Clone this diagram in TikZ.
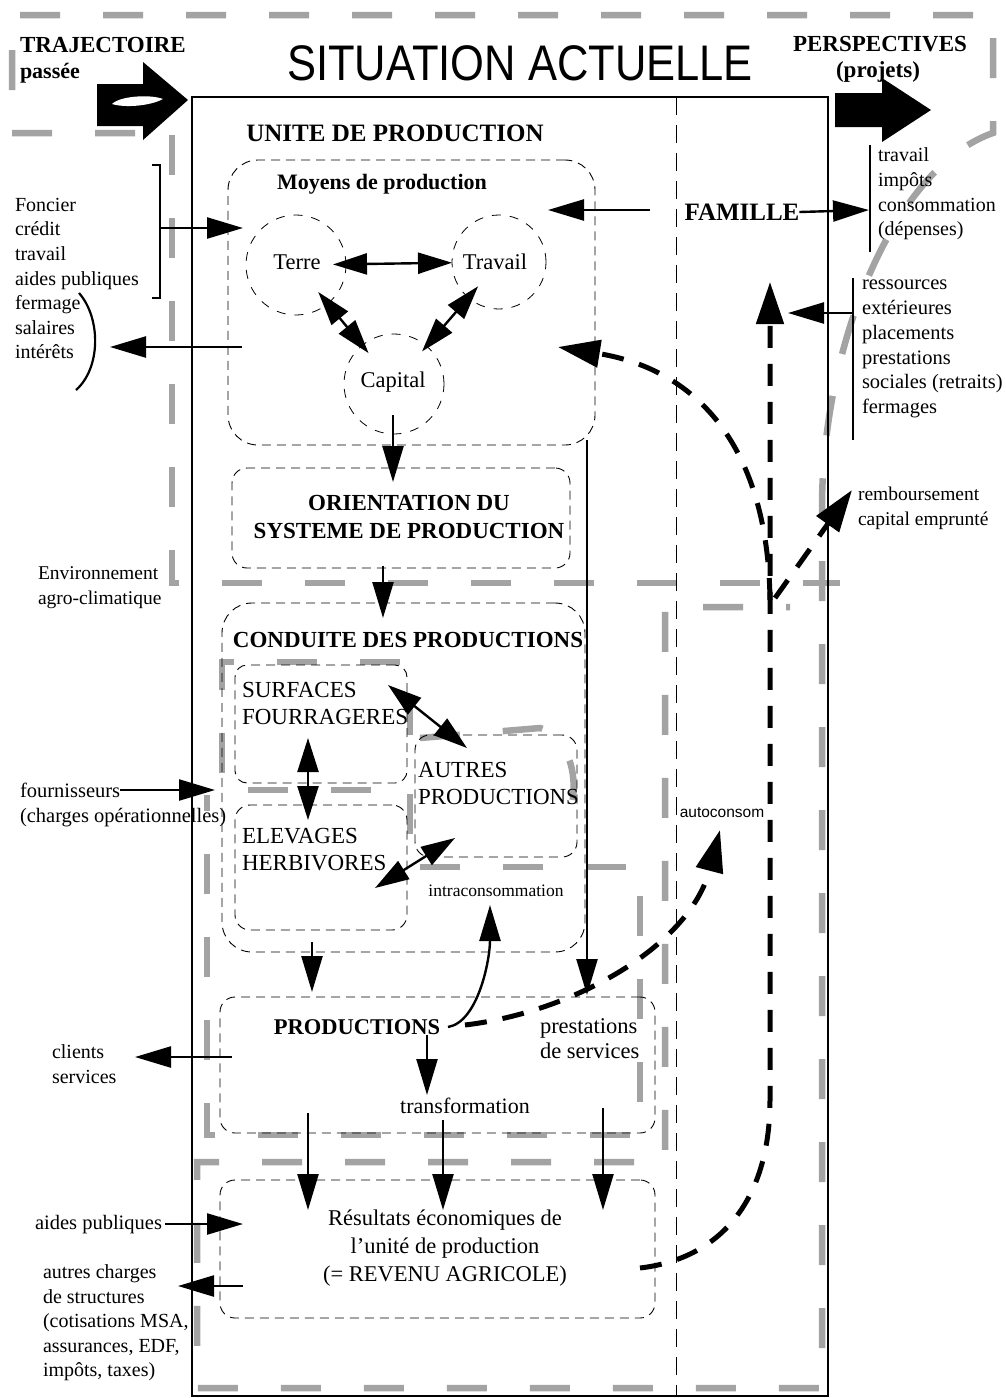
\documentclass[tikz,border=0pt]{standalone}
\usepackage{fontspec}
\usepackage{graphicx}
\setmainfont{Liberation Serif}
\newfontfamily\sansf{Liberation Sans}
\usetikzlibrary{arrows.meta}
\newcommand{\fsz}[2]{\fontsize{#1}{#2}\selectfont}
\begin{document}
\begin{tikzpicture}[x=1pt,y=-1pt,
  every node/.style={inner sep=0pt, outer sep=0pt},
  arr/.style={draw, line width=2.4pt, -{Triangle[length=36pt,width=21pt]}},
  dbl/.style={draw, line width=2.4pt, {Triangle[length=34pt,width=21pt]}-{Triangle[length=34pt,width=21pt]}},
  tdash/.style={draw, line width=5pt, dash pattern=on 22pt off 16pt, -{Triangle[length=42pt,width=27pt]}},
  dbox/.style={draw, line width=0.9pt, dash pattern=on 9pt off 6pt, rectangle},
  circ/.style={draw, circle, line width=0.8pt, dash pattern=on 9pt off 9pt},
  gdash/.style={draw=black!36, line width=6.5pt, dash pattern=on 40pt off 43pt},
  sepline/.style={draw, line width=1pt, dash pattern=on 18pt off 10pt},
  ltxt/.style={align=left, anchor=north west, font=\fsz{20}{24.6}},
]
\useasboundingbox (0,0) rectangle (1005,1398);
\fill[white] (0,0) rectangle (1005,1398);

% grey dashed boundaries
\draw[gdash] (135,133) -- (12,133) -- (12,15) -- (993,15) -- (993,133)
  .. controls (900,165) and (825,330) .. (822,500) -- (822,1388) -- (197,1388)
  -- (197,1162) -- (665,1162) -- (665,607) -- (790,607);
\draw[gdash] (172,135) -- (172,583) -- (840,583);
\draw[gdash] (410,735) -- (410,662) -- (222,662) -- (222,790) -- (410,790)
  -- (410,867) -- (640,867) -- (640,1135) -- (207,1135) -- (207,795);
\draw[gdash] (420,738) -- (540,728) .. controls (572,738) and (585,790) .. (562,832);

% big arrows
\fill (97,84) -- (143,84) -- (143,62) -- (188,100) -- (143,140) -- (143,126) -- (97,126) -- cycle;
\fill[white] (112,104) .. controls (120,96) and (150,94) .. (163,99) .. controls (150,106) and (125,108) .. (112,104) -- cycle;
\fill (835,93) -- (882,93) -- (882,78) -- (931,110) -- (882,142) -- (882,127) -- (835,127) -- cycle;

% titles
\node (title) at (520,63) {\sansf\fsz{50}{50}\scalebox{0.87}[1]{SITUATION ACTUELLE}};
\node[anchor=west, font=\bfseries\fsz{23}{27}] (traj) at (20,45) {TRAJECTOIRE};
\node[anchor=west, font=\bfseries\fsz{22}{26}] (passee) at (20,73) {passée};
\node[font=\bfseries\fsz{23}{27}] (persp) at (880,44) {PERSPECTIVES};
\node[font=\bfseries\fsz{23}{27}] (projets) at (878,72) {(projets)};

% main frame
\node[draw, line width=2.2pt, minimum width=636pt, minimum height=1299pt] (unit) at (510,746.5) {};
\coordinate (sepT) at (676,97);
\coordinate (sepB) at (676,1396);
\draw[sepline] (sepT) -- (sepB);
\node[font=\bfseries\fsz{25}{30}] (unite) at (395,133) {UNITE DE PRODUCTION};

% moyens de production
\node[dbox, rounded corners=30pt, minimum width=367pt, minimum height=285pt] (moyens) at (411.5,302.5) {};
\node[font=\bfseries\fsz{22}{26}] (moyenst) at (382,184) {Moyens de production};
\node[circ, minimum size=100pt] (terre) at (296,265) {};
\node[circ, minimum size=94pt] (travail) at (499,262) {};
\node[circ, minimum size=100pt] (capital) at (394,384) {};
\node[font=\fsz{22.5}{27}] (terret) at (297,262) {Terre};
\node[font=\fsz{22.5}{27}] (travailt) at (495,262) {Travail};
\node[font=\fsz{22.5}{27}] (capitalt) at (393,382) {Capital};
\draw[dbl, shorten <=-13pt] (terre) -- (travail);
\draw[dbl, shorten <=-15pt, shorten >=-10pt] (terre) -- (capital);
\draw[dbl, shorten <=-15pt, shorten >=-7pt] (travail) -- (capital);

% orientation
\node[dbox, rounded corners=15pt, minimum width=338pt, minimum height=100pt] (orient) at (401,518) {};
\node[font=\bfseries\fsz{23}{27.5}, align=center] (orientt) at (409,517) {ORIENTATION DU\\SYSTEME DE PRODUCTION};
\coordinate (capS) at (393,415);
\coordinate (orN) at (393,482);
\draw[arr] (capS) -- (orN);

% conduite
\node[dbox, rounded corners=30pt, minimum width=363pt, minimum height=349pt] (conduite) at (403.5,777.5) {};
\node[font=\bfseries\fsz{23}{27}] (conduitet) at (408,640) {CONDUITE DES PRODUCTIONS};
\coordinate (orS) at (383,566);
\coordinate (coN) at (383,618);
\draw[arr] (orS) -- (coN);
\node[dbox, rounded corners=12pt, minimum width=172pt, minimum height=118pt] (surf) at (321,724) {};
\node[dbox, rounded corners=15pt, minimum width=172pt, minimum height=125pt] (elev) at (321,867.5) {};
\node[dbox, rounded corners=15pt, minimum width=162pt, minimum height=122pt] (autres) at (496,796) {};
\node[align=left, anchor=north west, font=\fsz{23}{27.5}] (surft) at (242,682) {SURFACES\\FOURRAGERES};
\node[align=left, anchor=north west, font=\fsz{23}{27.5}] (autrest) at (418,762) {AUTRES\\PRODUCTIONS};
\node[align=left, anchor=north west, font=\fsz{23}{27.5}] (elevt) at (242,828) {ELEVAGES\\HERBIVORES};
\coordinate (sfS) at (308,738);
\coordinate (elN) at (308,820);
\draw[dbl] (sfS) -- (elN);
\coordinate (sfE) at (388,685);
\coordinate (auW) at (467,748);
\draw[dbl] (sfE) -- (auW);
\coordinate (elE) at (375,888);
\coordinate (auSW) at (455,838);
\draw[dbl] (elE) -- (auSW);
\node[font=\fsz{17.5}{20}] (intra) at (496,891) {intraconsommation};

% productions
\node[dbox, rounded corners=15pt, minimum width=435pt, minimum height=136pt] (prodbox) at (437.5,1065) {};
\node[font=\bfseries\fsz{22.5}{26}] (prod) at (357,1027) {PRODUCTIONS};
\node[align=left, anchor=north west, font=\fsz{22.5}{25}] (prest) at (540,1019) {prestations\\de services};
\node[font=\fsz{22}{25}] (transf) at (465,1106) {transformation};
\coordinate (elS) at (312,942);
\coordinate (prN) at (312,992);
\draw[arr] (elS) -- (prN);
\coordinate (moSE) at (587,440);
\coordinate (prNE) at (587,995);
\draw[arr] (moSE) -- (prNE);
\coordinate (prS) at (427,1035);
\coordinate (trN) at (427,1095);
\draw[arr] (prS) -- (trN);
\coordinate (prE) at (448,1027);
\coordinate (intraS) at (490,905);
\draw[line width=2.4pt, -{Triangle[length=36pt,width=21pt]}] (prE) .. controls (478,1022) and (490,960) .. (intraS);

% resultats
\node[dbox, rounded corners=15pt, minimum width=435pt, minimum height=138pt] (resbox) at (437.5,1249) {};
\node[font=\fsz{22.5}{28}, align=center] (res) at (445,1248) {Résultats économiques de\\l'unité de production\\(= REVENU AGRICOLE)};
\coordinate (d1a) at (308,1113); \coordinate (d1b) at (308,1210);
\coordinate (d2a) at (443,1120); \coordinate (d2b) at (443,1210);
\coordinate (d3a) at (603,1108); \coordinate (d3b) at (603,1210);
\draw[arr] (d1a) -- (d1b);
\draw[arr] (d2a) -- (d2b);
\draw[arr] (d3a) -- (d3b);

% left side
\node[ltxt] (foncier) at (15,198) {Foncier\\crédit\\travail\\aides publiques\\fermage\\salaires\\intérêts};
\draw[line width=2pt] (152,165) -- (160,165) -- (160,298) -- (152,298);
\draw[line width=2.2pt] (79,293) .. controls (101,318) and (101,368) .. (76,390);
\coordinate (brk) at (160,228);
\coordinate (moW1) at (243,228);
\draw[arr] (brk) -- (moW1);
\coordinate (moW2) at (242,347);
\coordinate (paren) at (110,347);
\draw[arr] (moW2) -- (paren);
\node[ltxt, font=\fsz{19.5}{24.6}] (envir) at (38,567) {Environnement\\agro-climatique};
\node[ltxt, font=\fsz{20.5}{24.6}] (fourn) at (20,783) {fournisseurs\\(charges opérationnelles)};
\coordinate (fournE) at (120,790);
\coordinate (coW) at (215,790);
\draw[arr] (fournE) -- (coW);
\node[ltxt] (clients) at (52,1045) {clients\\services};
\coordinate (prW) at (232,1057);
\coordinate (clE) at (135,1057);
\draw[arr] (prW) -- (clE);
\node[anchor=west, font=\fsz{20.5}{24.6}] (aides) at (35,1225) {aides publiques};
\coordinate (aidesE) at (165,1224);
\coordinate (reW1) at (243,1224);
\draw[arr] (aidesE) -- (reW1);
\node[ltxt, font=\fsz{20}{24.5}] (autresch) at (43,1265) {autres charges\\de structures\\(cotisations MSA,\\assurances, EDF,\\impôts, taxes)};
\coordinate (reW2) at (243,1286);
\coordinate (chE) at (178,1286);
\draw[arr] (reW2) -- (chE);

% famille and right side
\node[font=\bfseries\fsz{25}{30}] (famille) at (742,212) {FAMILLE};
\coordinate (famW) at (650,210);
\coordinate (moE) at (548,210);
\draw[arr] (famW) -- (moE);
\coordinate (bar1) at (869,210);
\draw[arr] (famille.east) -- (bar1);
\draw[line width=1.8pt] (870,145) -- (870,252);
\node[ltxt] (depenses) at (878,148) {travail\\impôts\\consommation\\(dépenses)};
\draw[line width=1.8pt] (853,278) -- (853,440);
\node[ltxt, font=\fsz{20.5}{24.8}] (ressources) at (862,280) {ressources\\extérieures\\placements\\prestations\\sociales (retraits)\\fermages};
\coordinate (bar2) at (853,313);
\coordinate (ressT) at (788,313);
\draw[arr] (bar2) -- (ressT);
\node[ltxt, font=\fsz{19.5}{25}] (remb) at (858,487) {remboursement\\capital emprunté};
\node[font=\sansf\fsz{15.5}{18}] (autoc) at (722,813) {autoconsom};

% thick dashed flows
\coordinate (revE) at (640,1268);
\coordinate (famS) at (770,282);
\coordinate (jn) at (770,600);
\coordinate (jn2) at (775,598);
\coordinate (moyT) at (558,347);
\coordinate (rembT) at (852,490);
\coordinate (prE2) at (465,1025);
\coordinate (autoT) at (720,830);
\draw[tdash] (revE) .. controls (725,1258) and (770,1195) .. (770,1100) -- (famS);
\draw[tdash] (jn) .. controls (768,450) and (700,370) .. (moyT);
\draw[tdash] (jn2) -- (rembT);
\draw[tdash] (prE2) .. controls (575,1012) and (690,945) .. (autoT);
\end{tikzpicture}
\end{document}
